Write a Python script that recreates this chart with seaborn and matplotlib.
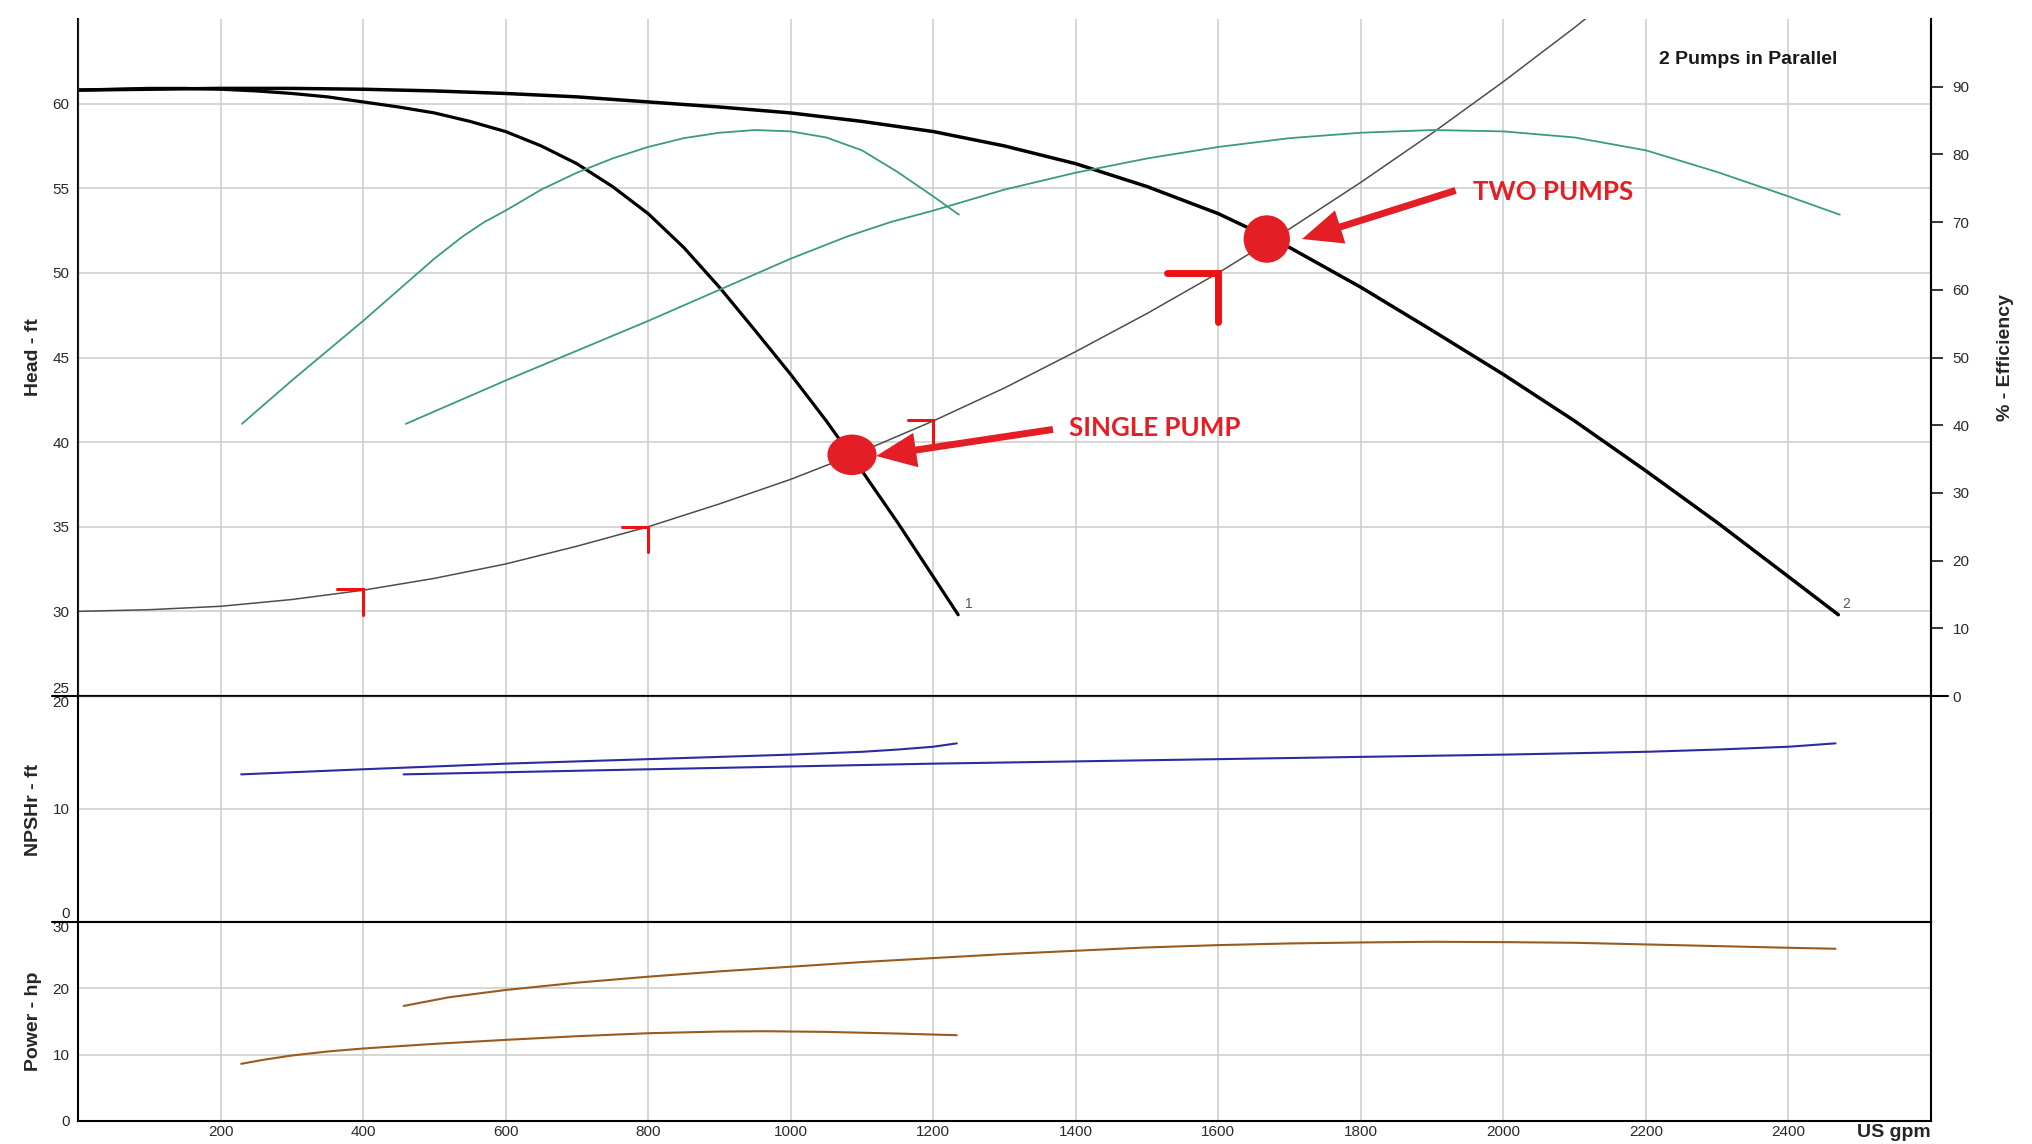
import matplotlib
matplotlib.use('Agg')
import matplotlib.pyplot as plt
from matplotlib.patches import Ellipse
from matplotlib.lines import Line2D
import seaborn as sns

# head curves (US gpm, ft): pump 1 = single pump, pump 2 = two pumps in parallel
q1 = [0, 50, 100, 150, 200, 250, 300, 350, 400, 450, 500, 550, 600, 650, 700, 750,
      800, 850, 900, 950, 1000, 1050, 1100, 1150, 1200, 1235]
head1 = [60.8, 60.85, 60.9, 60.9, 60.85, 60.75, 60.6, 60.4, 60.1, 59.8, 59.45, 58.95,
         58.35, 57.5, 56.45, 55.1, 53.5, 51.5, 49.15, 46.6, 44.0, 41.25, 38.3, 35.25,
         32.05, 29.8]
q2 = [0, 100, 200, 300, 400, 500, 600, 700, 800, 900, 1000, 1100, 1200, 1300, 1400, 1500,
      1600, 1700, 1800, 1900, 2000, 2100, 2200, 2300, 2400, 2470]
head2 = [60.8, 60.85, 60.9, 60.9, 60.85, 60.75, 60.6, 60.4, 60.1, 59.8, 59.45, 58.95,
         58.35, 57.5, 56.45, 55.1, 53.5, 51.5, 49.15, 46.6, 44.0, 41.25, 38.3, 35.25,
         32.05, 29.8]

# system curve
q_sys = [0, 100, 200, 300, 400, 500, 600, 700, 800, 900, 1000, 1100, 1200, 1300, 1400,
         1500, 1600, 1700, 1800, 1900, 2000, 2100, 2200]
head_sys = [30.0, 30.1, 30.3, 30.7, 31.25, 31.95, 32.8, 33.85, 35.0, 36.35, 37.8, 39.45,
            41.25, 43.2, 45.35, 47.6, 50.0, 52.6, 55.35, 58.25, 61.3, 64.5, 67.85]
sys_mark_q = [400, 800, 1200, 1600]
sys_mark_h = [31.3, 35.0, 41.3, 50.0]

# efficiency (%)
q_eff1 = [230, 300, 350, 400, 450, 500, 540, 570, 600, 650, 700, 750, 800, 850, 900, 950,
          1000, 1050, 1100, 1150, 1200, 1236]
eff1 = [40.2, 46.6, 51.0, 55.4, 60.0, 64.6, 67.9, 70.0, 71.7, 74.8, 77.3, 79.4, 81.1,
        82.4, 83.2, 83.6, 83.4, 82.5, 80.6, 77.4, 73.8, 71.1]
q_eff2 = [460, 600, 700, 800, 900, 1000, 1080, 1140, 1200, 1300, 1400, 1500, 1600, 1700,
          1800, 1900, 2000, 2100, 2200, 2300, 2400, 2472]
eff2 = [40.2, 46.6, 51.0, 55.4, 60.0, 64.6, 67.9, 70.0, 71.7, 74.8, 77.3, 79.4, 81.1,
        82.4, 83.2, 83.6, 83.4, 82.5, 80.6, 77.4, 73.8, 71.1]

# NPSHr (ft)
q_npsh1 = [229, 400, 600, 800, 1000, 1100, 1150, 1200, 1233]
npsh1 = [13.05, 13.5, 14.0, 14.4, 14.8, 15.05, 15.25, 15.5, 15.8]
q_npsh2 = [457, 800, 1200, 1600, 2000, 2200, 2300, 2400, 2466]
npsh2 = [13.05, 13.5, 14.0, 14.4, 14.8, 15.05, 15.25, 15.5, 15.8]

# power (hp)
q_pow1 = [229, 260, 300, 350, 400, 500, 600, 700, 800, 900, 963, 1050, 1150, 1233]
pow1 = [8.6, 9.2, 9.85, 10.45, 10.9, 11.6, 12.2, 12.75, 13.2, 13.45, 13.5, 13.4, 13.15, 12.9]
q_pow2 = [457, 520, 600, 700, 800, 900, 1000, 1100, 1200, 1300, 1400, 1500, 1600, 1700,
          1800, 1900, 2000, 2100, 2200, 2300, 2400, 2466]
pow2 = [17.3, 18.6, 19.7, 20.8, 21.7, 22.5, 23.2, 23.9, 24.5, 25.1, 25.6, 26.1, 26.45,
        26.7, 26.85, 26.95, 26.9, 26.8, 26.55, 26.3, 26.05, 25.9]

# operating points
op_single = (1086, 39.25)
op_two = (1668, 52.0)

sns.set_style('white')
plt.rcParams['font.family'] = ['Liberation Sans', 'DejaVu Sans']

RED = '#e31e24'
GREEN = '#3a9d74'
BLUE = '#2b2b9e'
BROWN = '#9a5a1e'
TXT = '#2a2a2a'

W, H = 2032, 1144
fig = plt.figure(figsize=(W / 100, H / 100), dpi=100)
L, R = 78 / W, 1931 / W


def fy(px):
    return 1 - px / H


ax_h = fig.add_axes([L, fy(696), R - L, (696 - 19) / H])
ax_n = fig.add_axes([L, fy(921.5), R - L, (921.5 - 696) / H])
ax_p = fig.add_axes([L, fy(1121), R - L, (1121 - 921.5) / H])

for ax in (ax_h, ax_n, ax_p):
    ax.set_xlim(0, 2600)
    ax.set_xticks(range(200, 2600, 200))
    ax.grid(True, color='#cccccc', lw=1.1)
    ax.set_axisbelow(True)
    ax.tick_params(length=0, labelsize=11, labelcolor=TXT, pad=6)
    for s in ax.spines.values():
        s.set_color('black')
        s.set_linewidth(1.5)
ax_h.tick_params(labelbottom=False)
ax_n.tick_params(labelbottom=False)
ax_p.tick_params(axis='x', pad=3)
ax_h.spines['top'].set_visible(False)

# head panel
sns.lineplot(x=q_sys, y=head_sys, ax=ax_h, color='#4d4d4d', lw=1.1)
sns.lineplot(x=q1, y=head1, ax=ax_h, color='black', lw=2.3)
sns.lineplot(x=q2, y=head2, ax=ax_h, color='black', lw=2.5)
ax_h.set_ylim(25, 65)
ax_h.set_yticks(range(25, 65, 5))
ax_h.set_ylabel('Head - ft', fontsize=14, fontweight='bold')
ax_h.yaxis.set_label_coords(-0.0194, 0.5)
ax_h.yaxis.get_major_ticks()[0].label1.set_va('bottom')

ax_h.text(1245, 30.0, '1', fontsize=10, color='#555555', va='bottom')
ax_h.text(2476, 30.0, '2', fontsize=10, color='#555555', va='bottom')
ax_h.text(2218, 62.6, '2 Pumps in Parallel', fontsize=14, fontweight='bold',
          color='#1a1a1a', va='center')

# red system curve markers
for i, (q, h) in enumerate(zip(sys_mark_q, sys_mark_h)):
    big = i == len(sys_mark_q) - 1
    dq, dh, lw = (72, 2.9, 5) if big else (36, 1.5, 2.2)
    ax_h.plot([q - dq, q, q], [h, h, h - dh], color='#ee1111', lw=lw,
              solid_joinstyle='miter', zorder=6)

# efficiency axis
ax_e = ax_h.twinx()
sns.lineplot(x=q_eff1, y=eff1, ax=ax_e, color=GREEN, lw=1.3)
sns.lineplot(x=q_eff2, y=eff2, ax=ax_e, color=GREEN, lw=1.3)
ax_e.set_ylim(0, 100)
ax_e.set_yticks(range(0, 100, 10))
ax_e.tick_params(axis='y', length=8.6, width=1.1, direction='out', pad=7,
                 labelsize=11, color='black', labelcolor=TXT)
ax_e.spines['top'].set_visible(False)
ax_e.spines['right'].set_linewidth(1.5)
ax_e.spines['right'].set_color('black')
ax_e.set_ylabel('% - Efficiency', fontsize=14, fontweight='bold')
ax_e.yaxis.set_label_coords(1.0355, 0.5)
ax_e.yaxis.get_major_ticks()[0].label1.set_va('bottom')

# operating points, arrows, callouts
ax_e.add_patch(Ellipse(op_single, 67, 2.31, color=RED, zorder=10,
                       transform=ax_h.transData))
ax_e.add_patch(Ellipse(op_two, 63, 2.72, color=RED, zorder=10,
                       transform=ax_h.transData))
arrow = dict(arrowstyle='simple,head_length=1.44,head_width=1.25,tail_width=0.25',
             color=RED, lw=0, shrinkA=0, shrinkB=0, mutation_scale=20)
ax_e.annotate('', xy=(1120, 39.18), xytext=(1368, 40.75), xycoords=ax_h.transData,
              textcoords=ax_h.transData, arrowprops=arrow, zorder=11)
ax_e.annotate('', xy=(1717.5, 52.0), xytext=(1933, 54.87), xycoords=ax_h.transData,
              textcoords=ax_h.transData, arrowprops=arrow, zorder=11)
ax_e.text(1391, 40.85, 'SINGLE PUMP', family=['Lato', 'DejaVu Sans'], fontweight='bold',
          fontsize=18.6, color=RED, va='center', transform=ax_h.transData)
ax_e.text(1957, 54.79, 'TWO PUMPS', family=['Lato', 'DejaVu Sans'], fontweight='bold',
          fontsize=18.6, color=RED, va='center', transform=ax_h.transData)

# NPSHr panel
sns.lineplot(x=q_npsh1, y=npsh1, ax=ax_n, color=BLUE, lw=1.5)
sns.lineplot(x=q_npsh2, y=npsh2, ax=ax_n, color=BLUE, lw=1.5)
ax_n.set_ylim(0, 20)
ax_n.set_yticks([0, 10, 20])
ax_n.set_ylabel('NPSHr - ft', fontsize=14, fontweight='bold')
ax_n.yaxis.set_label_coords(-0.0194, 0.494)
ax_n.yaxis.get_major_ticks()[0].label1.set_va('bottom')
ax_n.yaxis.get_major_ticks()[2].label1.set_va('top')

# power panel
sns.lineplot(x=q_pow1, y=pow1, ax=ax_p, color=BROWN, lw=1.5)
sns.lineplot(x=q_pow2, y=pow2, ax=ax_p, color=BROWN, lw=1.5)
ax_p.set_ylim(0, 30)
ax_p.set_yticks([0, 10, 20, 30])
ax_p.set_ylabel('Power - hp', fontsize=14, fontweight='bold')
ax_p.yaxis.set_label_coords(-0.0194, 0.5)
ax_p.yaxis.get_major_ticks()[3].label1.set_va('top')
ax_p.set_xlabel('US gpm', fontsize=14, fontweight='bold')
ax_p.xaxis.label.set_ha('right')
ax_p.xaxis.label.set_va('center')
ax_p.xaxis.set_label_coords(1.0, -0.06)

# panel separators run a little past the frame
for y in (696, 921.5):
    fig.add_artist(Line2D([52 / W, L], [fy(y), fy(y)], color='black', lw=1.5))
fig.add_artist(Line2D([R, 1948 / W], [fy(696), fy(696)], color='black', lw=1.5))

fig.savefig('out.png', dpi=100)
